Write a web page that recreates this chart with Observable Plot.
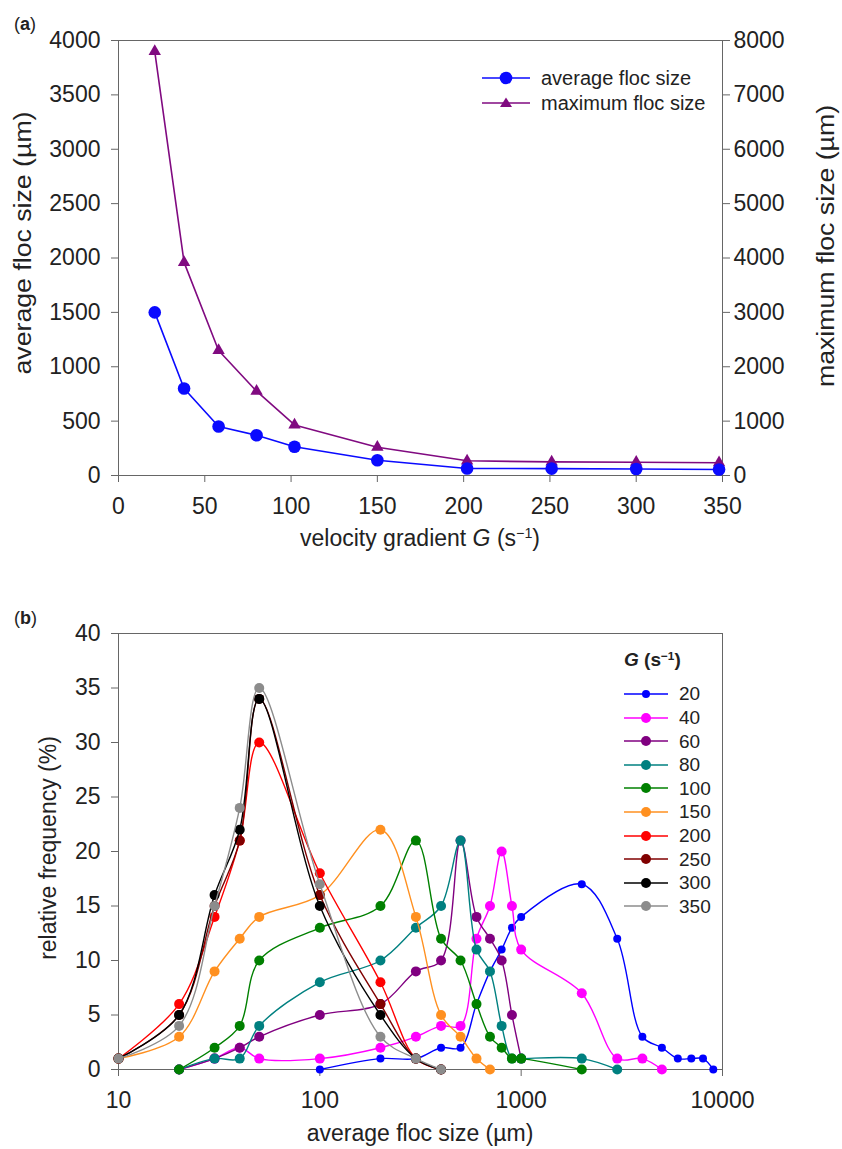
<!DOCTYPE html>
<html>
<head>
<meta charset="utf-8">
<script src="https://cdn.jsdelivr.net/npm/d3@7"></script>
<script src="https://cdn.jsdelivr.net/npm/@observablehq/plot@0.6"></script>
<style>
  body { margin: 0; background: #fff; font-family: "Liberation Sans", Arial, sans-serif; color: #222; }
  #wrap { position: relative; width: 842px; height: 1149px; overflow: hidden; }
  .abs { position: absolute; white-space: nowrap; line-height: 1; }
  .t23 { font-size: 23px; }
  .rot { transform: translate(-50%, -50%) rotate(-90deg); }
  .rotw { transform: translate(-50%, -50%) rotate(-90deg) scaleX(1.16); }
  .ctr { transform: translate(-50%, -50%); }
  sup { font-size: 0.62em; vertical-align: 0.55em; line-height: 0; }
  #panelA, #panelB { position: absolute; left: 0; }
  #panelA { top: 0; }
  #panelB { top: 560px; }
</style>
</head>
<body>
<div id="wrap">
  <div id="panelA"></div>
  <div id="panelB"></div>
</div>
<script>
// ---------- Panel (a) data ----------
const gradientG = [21, 38, 58, 80, 102, 150, 202, 251, 300, 348];
const avgFlocSize = [1500, 800, 450, 370, 265, 140, 65, 63, 60, 55];
const maxFlocSize = [7800, 3920, 2300, 1550, 930, 520, 270, 250, 245, 235];
const xTicksA = [0, 50, 100, 150, 200, 250, 300, 350];
const yTicksLeftA = [0, 500, 1000, 1500, 2000, 2500, 3000, 3500, 4000];
const yTicksRightA = [0, 1000, 2000, 3000, 4000, 5000, 6000, 7000, 8000];

// ---------- Panel (b) data: [average floc size (µm), relative frequency (%)] ----------
const seriesG = [20, 40, 60, 80, 100, 150, 200, 250, 300, 350];
const seriesColors = ["#0000ff", "#ff00ff", "#800080", "#008080", "#008000", "#ff9020", "#ff0000", "#800000", "#000000", "#8c8c8c"];
const g20  = [[100,0],[200,1],[300,1],[400,2],[500,2],[600,6],[700,9],[800,11],[900,13],[1000,14],[2000,17],[3000,12],[4000,3],[5000,2],[6000,1],[7000,1],[8000,1],[9000,0]];
const g40  = [[20,0],[30,1],[40,2],[50,1],[100,1],[200,2],[300,3],[400,4],[500,4],[600,12],[700,15],[800,20],[900,15],[1000,11],[2000,7],[3000,1],[4000,1],[5000,0]];
const g60  = [[20,0],[30,1],[40,2],[50,3],[100,5],[200,6],[300,9],[400,10],[500,21],[600,14],[700,12],[800,10],[900,5],[1000,1]];
const g80  = [[20,0],[30,1],[40,1],[50,4],[100,8],[200,10],[300,13],[400,15],[500,21],[600,11],[700,9],[800,4],[900,1],[1000,1],[2000,1],[3000,0]];
const g100 = [[20,0],[30,2],[40,4],[50,10],[100,13],[200,15],[300,21],[400,12],[500,10],[600,6],[700,3],[800,2],[900,1],[1000,1],[2000,0]];
const g150 = [[10,1],[20,3],[30,9],[40,12],[50,14],[100,16],[200,22],[300,14],[400,5],[500,3],[600,1],[700,0]];
const g200 = [[10,1],[20,6],[30,14],[40,21],[50,30],[100,18],[200,8],[300,1],[400,0]];
const g250 = [[10,1],[20,5],[30,15],[40,21],[50,34],[100,16],[200,6],[300,1],[400,0]];
const g300 = [[10,1],[20,5],[30,16],[40,22],[50,34],[100,15],[200,5],[300,1],[400,0]];
const g350 = [[10,1],[20,4],[30,15],[40,24],[50,35],[100,17],[200,3],[300,1],[400,0]];
const seriesData = [g20, g40, g60, g80, g100, g150, g200, g250, g300, g350];
const xTicksB = [10, 100, 1000, 10000];
const yTicksB = [0, 5, 10, 15, 20, 25, 30, 35, 40];

const BLUE = "#0a0aff", PURPLE = "#800a80", AXIS = "#666";
const font = {fontSize: "23px", fontFamily: "'Liberation Sans', Arial, sans-serif", color: "#222", background: "transparent", overflow: "visible"};

// ---------- Panel (a) ----------
const rowsA = gradientG.map((g, i) => ({g, avg: avgFlocSize[i], max: maxFlocSize[i]}));
const plotA = Plot.plot({
  width: 842, height: 560,
  marginTop: 40, marginBottom: 85, marginLeft: 118, marginRight: 120,
  style: font,
  x: {domain: [0, 350]},
  y: {domain: [0, 4000]},
  marks: [
    Plot.frame({stroke: AXIS}),
    Plot.axisX({ticks: xTicksA, tickSize: 7, tickPadding: 15, stroke: AXIS, label: null, tickFormat: d => String(d)}),
    Plot.axisY({anchor: "left", ticks: yTicksLeftA, tickSize: 7, tickPadding: 11, stroke: AXIS, label: null, tickFormat: d => String(d)}),
    Plot.axisY({anchor: "right", ticks: yTicksRightA.map(v => v / 2), tickSize: 7, tickPadding: 4, stroke: AXIS, label: null, tickFormat: d => String(d * 2)}),
    Plot.line(rowsA, {x: "g", y: d => d.max / 2, stroke: PURPLE, strokeWidth: 1.6}),
    Plot.dot(rowsA, {x: "g", y: d => d.max / 2, symbol: "triangle", r: 4.6, fill: PURPLE, stroke: "none"}),
    Plot.line(rowsA, {x: "g", y: "avg", stroke: BLUE, strokeWidth: 1.6}),
    Plot.dot(rowsA, {x: "g", y: "avg", r: 6.3, fill: BLUE, stroke: "none"})
  ]
});
document.getElementById("panelA").appendChild(plotA);

// ---------- Panel (b) ----------
const rowsB = [];
seriesData.forEach((arr, i) => arr.forEach(([size, freq]) => rowsB.push({G: seriesG[i], size, freq})));
const marksB = [
  Plot.frame({stroke: AXIS}),
  Plot.axisX({ticks: xTicksB, tickSize: 7, tickPadding: 15, stroke: AXIS, label: null, tickFormat: d => String(d)}),
  Plot.axisY({anchor: "left", ticks: yTicksB, tickSize: 7, tickPadding: 11, stroke: AXIS, label: null, tickFormat: d => String(d)})
];
seriesG.forEach((g, i) => {
  const rows = rowsB.filter(d => d.G === g);
  marksB.push(Plot.line(rows, {x: "size", y: "freq", stroke: seriesColors[i], strokeWidth: 1.4, curve: "catmull-rom"}));
  marksB.push(Plot.dot(rows, {x: "size", y: "freq", r: g === 20 ? 4 : 5, fill: seriesColors[i], stroke: "none"}));
});
const plotB = Plot.plot({
  width: 842, height: 589,
  marginTop: 73, marginBottom: 80, marginLeft: 118, marginRight: 120,
  style: font,
  x: {type: "log", domain: [10, 10000]},
  y: {domain: [0, 40]},
  marks: marksB
});
document.getElementById("panelB").appendChild(plotB);

// ---------- Text overlays ----------
const wrap = document.getElementById("wrap");
function addText(html, css, cls = "") {
  const d = document.createElement("div");
  d.className = "abs " + cls;
  d.innerHTML = html;
  Object.assign(d.style, css);
  wrap.appendChild(d);
  return d;
}
addText("(<b>a</b>)", {left: "14px", top: "15px", fontSize: "18px"});
addText("(<b>b</b>)", {left: "14px", top: "609px", fontSize: "18px"});
addText("average floc size (µm)", {left: "23px", top: "243px"}, "t23 rotw");
addText("maximum floc size (µm)", {left: "826px", top: "246px"}, "t23 rotw");
addText("velocity gradient <i>G</i> (s<sup>−1</sup>)", {left: "420px", top: "538px"}, "t23 ctr");
addText("relative frequency (%)", {left: "48px", top: "848px"}, "t23 rot");
addText("average floc size (µm)", {left: "420px", top: "1133px"}, "t23 ctr");

// Legend (a)
const legA = [
  {label: "average floc size", color: BLUE, sym: "circle"},
  {label: "maximum floc size", color: PURPLE, sym: "triangle"}
];
legA.forEach((it, i) => {
  const y = 76 + i * 25;
  const marker = it.sym === "circle"
    ? `<circle cx="24" cy="10" r="6.3" fill="${it.color}"/>`
    : `<path d="M24,4.5 L30,14 L18,14 Z" fill="${it.color}"/>`;
  addText(`<svg width="49" height="20" style="vertical-align:middle"><line x1="0" y1="10" x2="48" y2="10" stroke="${it.color}" stroke-width="1.6"/>${marker}</svg><span style="margin-left:10px;vertical-align:middle">${it.label}</span>`,
    {left: "482px", top: (y - 10) + "px", fontSize: "20px"});
});

// Legend (b)
addText("<b><i>G</i> (s<sup>−1</sup>)</b>", {left: "624px", top: "650px", fontSize: "19px"});
seriesG.forEach((g, i) => {
  const y = 691 + i * 23.6;
  const r = g === 20 ? 4 : 5;
  addText(`<svg width="46" height="14" style="vertical-align:middle"><line x1="0" y1="7" x2="44" y2="7" stroke="${seriesColors[i]}" stroke-width="1.5"/><circle cx="22" cy="7" r="${r}" fill="${seriesColors[i]}"/></svg><span style="margin-left:9px;vertical-align:middle">${g}</span>`,
    {left: "624px", top: (y - 8) + "px", fontSize: "19px"});
});
</script>
</body>
</html>
